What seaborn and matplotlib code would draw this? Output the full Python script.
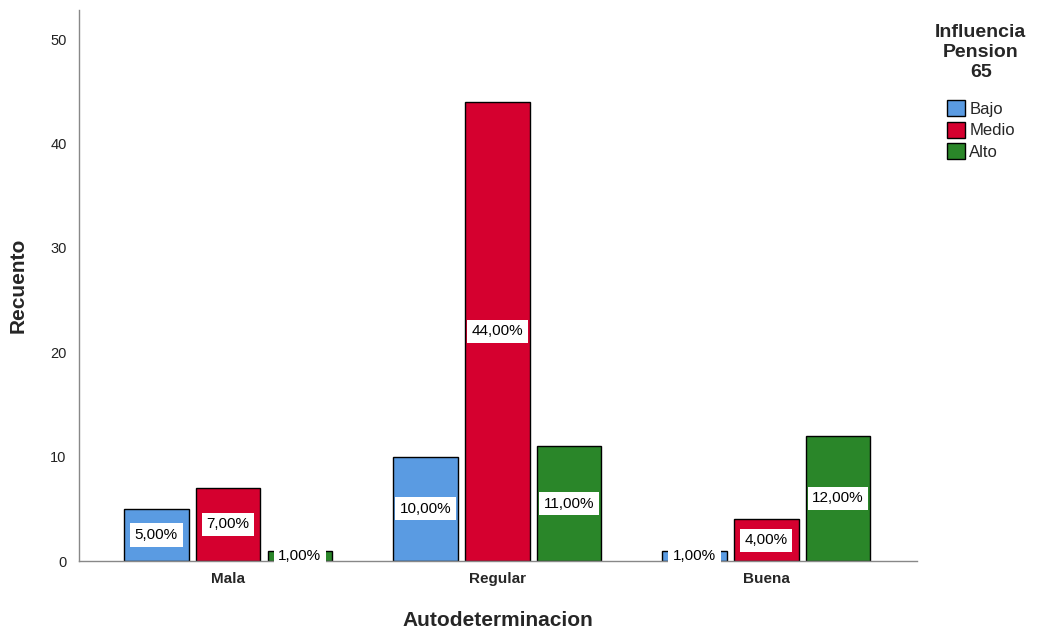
import numpy as np
import pandas as pd
import matplotlib.pyplot as plt
import seaborn as sns

# ── Data ──────────────────────────────────────────────────────────────────────
categories = ['Mala', 'Regular', 'Buena']
levels = ['Bajo', 'Medio', 'Alto']
bajo = [5, 10, 1]
medio = [7, 44, 4]
alto = [1, 11, 12]
pct_bajo = ['5,00%', '10,00%', '1,00%']
pct_medio = ['7,00%', '44,00%', '4,00%']
pct_alto = ['1,00%', '11,00%', '12,00%']

colors = ['#5a9be2', '#d5002f', '#2a8629']

df = pd.DataFrame({
    'Autodeterminacion': categories * 3,
    'Influencia': [l for l in levels for _ in categories],
    'Recuento': bajo + medio + alto,
})
labels = [pct_bajo, pct_medio, pct_alto]

# ── Plot ──────────────────────────────────────────────────────────────────────
sns.set_theme(style='white')
plt.rcParams['font.family'] = ['Liberation Sans', 'DejaVu Sans']

fig = plt.figure(figsize=(10.4, 6.3), dpi=100)
ax = fig.add_axes([0.076, 0.1095, 0.806, 0.8745])

sns.barplot(data=df, x='Autodeterminacion', y='Recuento', hue='Influencia',
            order=categories, hue_order=levels, palette=colors,
            width=0.8, gap=0.1, edgecolor='black', linewidth=1,
            saturation=1, ax=ax)

for cont, labs in zip(ax.containers, labels):
    for bar, lab in zip(cont, labs):
        h = bar.get_height()
        ax.text(bar.get_x() + bar.get_width() / 2, h / 2, lab,
                ha='center', va='center', fontsize=11, color='black',
                bbox=dict(boxstyle='square,pad=0.3', fc='white', ec='none'))

ax.set_xlim(-0.554, 2.561)
ax.set_ylim(0, 52.8)
ax.set_yticks([0, 10, 20, 30, 40, 50])
ax.tick_params(axis='y', labelsize=10.5, colors='#222222', length=0, pad=9)
ax.tick_params(axis='x', labelsize=11, length=0, pad=8)
for t in ax.get_xticklabels():
    t.set_fontweight('bold')
ax.set_ylabel('Recuento', fontsize=15, fontweight='bold', labelpad=16)
ax.set_xlabel('Autodeterminacion', fontsize=15, fontweight='bold', labelpad=18)

sns.despine(ax=ax)
for s in ['left', 'bottom']:
    ax.spines[s].set_color('#888888')
    ax.spines[s].set_linewidth(1)

leg = ax.legend(title='Influencia\nPension\n65', loc='upper center',
                bbox_to_anchor=(0.943, 0.985), bbox_transform=fig.transFigure,
                frameon=False, fontsize=12, handlelength=1.1, handleheight=1.1,
                handletextpad=0.25, labelspacing=0.3)
leg.get_title().set_fontweight('bold')
leg.get_title().set_fontsize(14)
leg.get_title().set_multialignment('center')
leg._legend_box.align = 'center'
leg._legend_box.sep = 14
for h in leg.legend_handles:
    h.set_edgecolor('black')

fig.savefig('out.png', dpi=100)
